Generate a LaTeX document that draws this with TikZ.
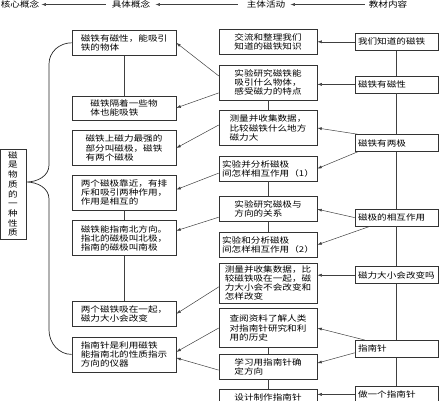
\documentclass[tikz,border=0pt]{standalone}
\usepackage{fontspec}
\setmainfont[FakeStretch=1.2]{Noto Sans CJK SC}
\usetikzlibrary{positioning,arrows.meta}

\begin{document}
\begin{tikzpicture}[
    x=1pt, y=-1pt,
    font=\fontsize{8}{9.2}\selectfont,
    node distance=10pt,
    box/.style={draw=black!80, line width=0.6pt, fill=white, align=left, inner xsep=2pt, inner ysep=2pt,
                execute at begin node={\lineskiplimit=-20pt\relax}},
    concept/.style={box, minimum width=104pt},
    activity/.style={box, minimum width=98pt},
    content/.style={box, minimum width=83pt, minimum height=17pt, text width=77pt, inner xsep=3pt},
    core/.style={box, align=center, minimum width=26pt, minimum height=90pt, inner sep=1pt, font=\fontsize{8}{9.7}\selectfont},
    header/.style={inner sep=1pt},
    arr/.style={-{Latex[length=4.5pt,width=3pt]}, black!75, line width=0.5pt},
    link/.style={black!75, line width=0.5pt},
    brace/.style={black!85, line width=0.7pt}
]
\useasboundingbox (0,0) rectangle (443,400);

% header
\node[header] (h1) at (20,4.5) {核心概念};
\node[header] (h2) at (131,4.5) {具体概念};
\node[header] (h3) at (266,4.5) {主体活动};
\node[header] (h4) at (388,4.5) {教材内容};

% core concept
\node[core] (lc) at (13,194) {磁\\是\\物\\质\\的\\一\\种\\性\\质};
\coordinate (tip) at ([yshift=12pt]lc.east);

% concrete concepts
\node[concept, minimum height=25pt, anchor=north] (c1) at (124,30) {磁铁有磁性，能吸引\\铁的物体};
\node[concept, minimum height=24pt, below=40pt of c1] (c2) {磁铁隔着一些物\\体也能吸铁};
\node[concept, minimum height=35pt, below=10pt of c2] (c3) {磁铁上磁力最强的\\部分叫磁极，磁铁\\有两个磁极};
\node[concept, minimum height=35pt, below=9pt of c3] (c4) {两个磁极靠近，有排\\斥和吸引两种作用，\\作用是相互的};
\node[concept, minimum height=35pt, below=10pt of c4] (c5) {磁铁能指南北方向。\\指北的磁极叫北极，\\指南的磁极叫南极};
\node[concept, minimum height=25pt, below=45pt of c5] (c6) {两个磁铁吸在一起，\\磁力大小会改变};
\node[concept, minimum height=35pt, below=10pt of c6] (c7) {指南针是利用磁铁\\能指南北的性质指示\\方向的仪器};

% activities
\node[activity, minimum height=25pt, anchor=north] (m1) at (268,29) {交流和整理我们\\知道的磁铁知识};
\node[activity, minimum height=35pt, below=of m1] (m2) {实验研究磁铁能\\吸引什么物体，\\感受磁力的特点};
\node[activity, minimum height=35pt, below=of m2] (m3) {测量并收集数据，\\比较磁铁什么地方\\磁力大};
\node[activity, minimum height=25pt, below=of m3] (m4) {实验并分析磁极\\间怎样相互作用（1）};
\node[activity, minimum height=25pt, below=15pt of m4] (m5) {实验研究磁极与\\方向的关系};
\node[activity, minimum height=25pt, below=of m5] (m6) {实验和分析磁极\\间怎样相互作用（2）};
\node[activity, minimum height=40pt, inner ysep=1pt, font=\fontsize{8}{8.9}\selectfont, below=5pt of m6] (m7) {测量并收集数据，比\\较磁铁吸在一起，磁\\力大小会不会改变和\\怎样改变};
\node[activity, minimum height=39pt, below=5pt of m7] (m8) {查阅资料了解人类\\对指南针研究和利\\用的历史};
\node[activity, minimum height=25pt, below=6pt of m8] (m9) {学习用指南针确\\定方向};
\node[activity, minimum height=15pt, inner ysep=0.5pt, below=of m9] (m10) {设计制作指南针};

% textbook contents
\node[content, anchor=north] (r1) at (396.5,33) {我们知道的磁铁};
\node[content, below=25pt of r1] (r2) {磁铁有磁性};
\node[content, below=41pt of r2] (r3) {磁铁有两极};
\node[content, below=57pt of r3] (r4) {磁极的相互作用};
\node[content, below=40pt of r4] (r5) {磁力大小会改变吗};
\node[content, below=56pt of r5] (r6) {指南针};
\node[content, below=28pt of r6] (r7) {做一个指南针};

% header arrows
\draw[arr, shorten <=5pt, shorten >=1pt] (h2) -- (h1);
\draw[arr, shorten <=8pt, shorten >=4pt] (h3) -- (h2);
\draw[arr, shorten <=3pt, shorten >=4pt] (h4) -- (h3);

% brace
\draw[brace] (c1.west) to[out=180,in=90] (49,64) -- (49,165) to[out=-90,in=0] (tip)
  to[out=0,in=90] (49,199) -- (49,330) to[out=-90,in=180] (c7.west);

% vertical links
\foreach \a/\b in {c1/c2, c4/c5, c5/c6, m2/m3, m4/m5, m5/m6, m8/m9, m9/m10,
                   r1/r2, r2/r3, r3/r4, r4/r5, r5/r6, r6/r7}
  \draw[link] (\a) -- (\b);

% activities to concepts
\draw[arr] ([yshift=6.5pt]m2.west) -- (c1.east);
\draw[arr] ([yshift=-10.5pt]m2.west) -- (c2.east);
\draw[arr] ([yshift=3pt]m3.west) -- (c3.east);
\draw[arr] ([yshift=-4.5pt]m4.west) -- ([yshift=3pt]c4.east);
\draw[arr] ([yshift=-8pt]m5.west) -- ([yshift=7.5pt]c5.east);
\draw[arr] ([yshift=-4pt]m7.west) -- (c6.east);
\draw[arr] (m8.west) -- ([yshift=2.5pt]c7.east);
\draw[arr] ([yshift=-3.5pt]m9.west) -- ([yshift=-3.5pt]c7.east);

% contents to activities
\draw[arr] (r1.west) -- (r1.west -| m1.east);
\draw[arr] (r2.west) -- (r2.west -| m2.east);
\draw[arr] ([xshift=3pt]r3.north west) -- (m3.east);
\draw[arr] ([xshift=3pt]r3.south west) -- (m4.east);
\draw[arr] (r4.west) -- (m5.east);
\draw[arr] ([xshift=15pt]r4.south west) -- (m6.east);
\draw[arr] (r5.west) -- (r5.west -| m7.east);
\draw[arr] ([xshift=10pt]r6.north west) -- (m8.east);
\draw[arr] ([yshift=-4pt]r6.west) -- ([yshift=3.5pt]m9.east);
\draw[arr] (r7.west) -- (r7.west -| m10.east);
\end{tikzpicture}
\end{document}
